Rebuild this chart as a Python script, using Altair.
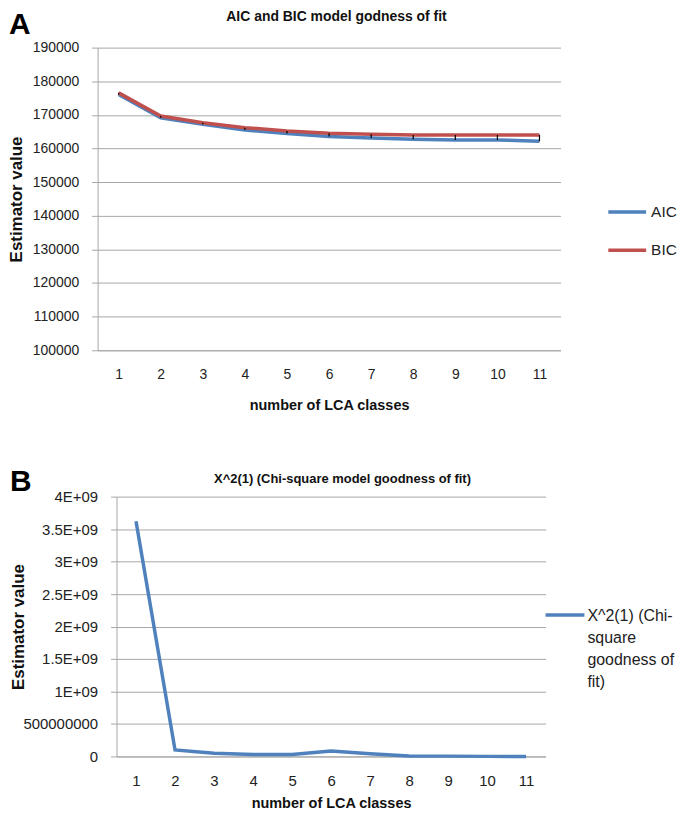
import altair as alt
import pandas as pd

FONT = "Liberation Sans"
BLUE = "#4F81BD"
RED = "#C0504D"
GRID = "#A6A6A6"

classes = [1, 2, 3, 4, 5, 6, 7, 8, 9, 10, 11]
aic = [176060, 169160, 167190, 165520, 164430, 163550, 163150, 162760, 162560, 162560, 162170]
bic = [176550, 169650, 167680, 166200, 165220, 164530, 164240, 164040, 164040, 164040, 164040]
chi = [3.62e9, 1.0e8, 5.0e7, 3.0e7, 3.0e7, 8.5e7, 4.0e7, 6.0e6, 5.0e6, 1.0e6, 0.0]

series_a = ["AIC", "BIC"]
series_b = ["X^2(1) (Chi-square goodness of fit)"]
legend_b_lines = ["X^2(1) (Chi-", "square", "goodness of", "fit)"]

title_a = "AIC and BIC model godness of fit"
title_b = "X^2(1) (Chi-square model goodness of fit)"
x_title = "number of LCA classes"
y_title = "Estimator value"
panel_letters = ["A", "B"]

y_ticks_a = [100000, 110000, 120000, 130000, 140000, 150000, 160000, 170000, 180000, 190000]
y_ticks_b = [0, 5e8, 1e9, 1.5e9, 2e9, 2.5e9, 3e9, 3.5e9, 4e9]

W_A, H_A = 465, 304
W_B, H_B = 431, 261

df_a = pd.DataFrame(
    {"classes": classes * 2, "series": [series_a[0]] * 11 + [series_a[1]] * 11, "value": aic + bic}
)
df_hl = pd.DataFrame({"classes": classes, "aic": aic, "bic": bic})
df_b = pd.DataFrame({"classes": classes, "series": series_b * 11, "value": chi})
df_ta = pd.DataFrame({"letter": [panel_letters[0]], "title": [title_a]})
df_tb = pd.DataFrame({"letter": [panel_letters[1]], "title": [title_b]})

X_SCALE = alt.Scale(type="point", padding=0.5)


def x_axis(label_size, title_y):
    return alt.Axis(
        title=x_title, labelAngle=0, ticks=False, grid=False, labelPadding=17,
        labelFont=FONT, labelFontSize=label_size, labelColor="#222", titleFont=FONT,
        titleFontSize=14.5, titleFontWeight="bold", titleColor="#111",
        domainColor=GRID, domainWidth=1, titleY=title_y, titleBaseline="middle",
    )


def y_axis(values, title_x, label_size, label_expr=None, fmt=None):
    kw = dict(
        values=values, title=y_title, grid=True, gridColor=GRID, gridWidth=1,
        tickColor=GRID, tickSize=6, labelPadding=13, labelFont=FONT,
        labelFontSize=label_size, labelColor="#222", titleFont=FONT, titleFontSize=17,
        titleFontWeight="bold", titleColor="#111", domainColor=GRID, titleX=title_x,
    )
    if label_expr:
        kw["labelExpr"] = label_expr
    if fmt:
        kw["format"] = fmt
    return alt.Axis(**kw)


# ---------- Panel A ----------
X_A = alt.X("classes:O", axis=x_axis(14, 55), scale=X_SCALE)
Y_SCALE_A = alt.Scale(domain=[100000, 190000], nice=False, zero=False)
Y_AXIS_A = y_axis(y_ticks_a, -72, 14, fmt="d")

lines_a = alt.Chart(df_a).mark_line(strokeWidth=3.5).encode(
    x=X_A,
    y=alt.Y("value:Q", scale=Y_SCALE_A, axis=Y_AXIS_A),
    color=alt.Color("series:N", scale=alt.Scale(domain=series_a, range=[BLUE, RED]),
                    legend=alt.Legend(title=None, orient="none", legendX=511, legendY=144,
                                      symbolType="stroke", symbolSize=1444, symbolStrokeWidth=3.5,
                                      labelFont=FONT, labelFontSize=15.5, labelColor="#222",
                                      rowPadding=8.5, padding=0, labelOffset=3)),
)
hl_a = alt.Chart(df_hl).mark_rule(color="black", strokeWidth=1.2).encode(
    x=X_A, y=alt.Y("aic:Q", scale=Y_SCALE_A, axis=Y_AXIS_A), y2="bic:Q"
)
letter_a = alt.Chart(df_ta).mark_text(
    align="left", baseline="top", fontSize=30, fontWeight="bold", font=FONT, color="black"
).encode(text="letter:N", x=alt.value(-89), y=alt.value(-38))
title_mark_a = alt.Chart(df_ta).mark_text(
    align="center", baseline="middle", fontSize=14, fontWeight="bold", font=FONT, color="#111"
).encode(text="title:N", x=alt.value(240), y=alt.value(-31))

panel_a = alt.layer(lines_a, hl_a, letter_a, title_mark_a).properties(width=W_A, height=H_A)

# ---------- Panel B ----------
expr_b = ("datum.value == 0 ? '0' : datum.value == 500000000 ? '500000000' : "
          "format(datum.value / 1e9, '~g') + 'E+09'")

lines_b = alt.Chart(df_b).mark_line(strokeWidth=3.5).encode(
    x=alt.X("classes:O", axis=x_axis(15, 47), scale=X_SCALE),
    y=alt.Y("value:Q", scale=alt.Scale(domain=[0, 4e9], nice=False),
            axis=y_axis(y_ticks_b, -89, 15, label_expr=expr_b)),
    color=alt.Color("series:N", scale=alt.Scale(domain=series_b, range=[BLUE]), legend=None),
)
# legend for panel B (line sample + wrapped series name)
legend_sym_b = alt.Chart(df_tb).mark_rule(color=BLUE, strokeWidth=3.5).encode(
    x=alt.value(431), x2=alt.value(470), y=alt.value(119)
)
legend_txt_b = alt.Chart(df_tb).mark_text(
    text=legend_b_lines, align="left", baseline="top", lineHeight=22, fontSize=16,
    font=FONT, color="#222"
).encode(x=alt.value(473), y=alt.value(112))
letter_b = alt.Chart(df_tb).mark_text(
    align="left", baseline="top", fontSize=30, fontWeight="bold", font=FONT, color="black"
).encode(text="letter:N", x=alt.value(-107), y=alt.value(-30))
title_mark_b = alt.Chart(df_tb).mark_text(
    align="center", baseline="middle", fontSize=13, fontWeight="bold", font=FONT, color="#111"
).encode(text="title:N", x=alt.value(227), y=alt.value(-18))

panel_b = alt.layer(lines_b, legend_sym_b, legend_txt_b, letter_b, title_mark_b).properties(
    width=W_B, height=H_B
)

# zero-size spacer that lets panel B's plot sit a little right of panel A's
spacer = alt.Chart(df_tb).mark_text(text="").encode(
    x=alt.value(0), y=alt.value(0)
).properties(width=1, height=1)

row_b = alt.hconcat(spacer, panel_b, spacing=-90).resolve_scale(
    color="independent", x="independent", y="independent"
)

chart = alt.vconcat(panel_a, row_b, spacing=55).resolve_scale(
    color="independent", x="independent", y="independent"
).resolve_legend(color="independent").configure_view(stroke=None).properties(
    padding=0, background="white"
)

chart.save("out.html", embed_options={"renderer": "svg", "actions": False})
